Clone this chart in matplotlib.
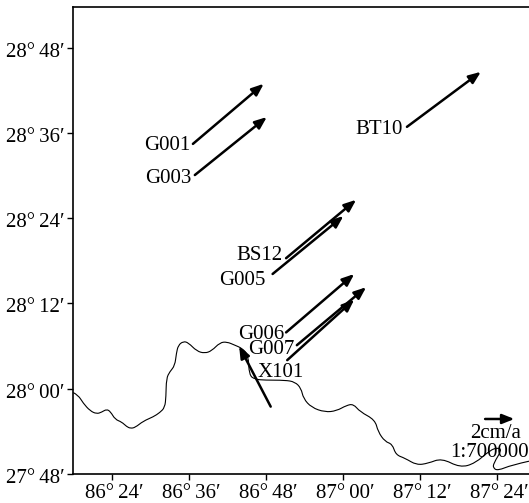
import matplotlib
matplotlib.use('Agg')
import matplotlib.pyplot as plt
from matplotlib.path import Path
from matplotlib.patches import PathPatch
from matplotlib.transforms import ScaledTranslation

# degrees, read from the graticule
lon_ticks = [86.4, 86.6, 86.8, 87.0, 87.2, 87.4]
lon_labels = ['86°\u200924′', '86°\u200936′', '86°\u200948′', '87°\u200900′', '87°\u200912′', '87°\u200924′']
lat_ticks = [27.8, 28.0, 28.2, 28.4, 28.6, 28.8]
lat_labels = ['27°\u200948′', '28°\u200900′', '28°\u200912′', '28°\u200924′', '28°\u200936′', '28°\u200948′']

border_lon = [86.300, 86.313, 86.326, 86.344, 86.361, 86.374, 86.387, 86.397, 86.409, 86.426,
              86.439, 86.449, 86.461, 86.482, 86.508, 86.525, 86.538, 86.541, 86.542, 86.551,
              86.564, 86.568, 86.573, 86.586, 86.599, 86.621, 86.642, 86.660, 86.681, 86.699,
              86.720, 86.738, 86.755, 86.757, 86.772, 86.798, 86.850, 86.876, 86.892, 86.898,
              86.919, 86.954, 86.984, 87.010, 87.028, 87.045, 87.084, 87.092, 87.110, 87.129,
              87.138, 87.162, 87.192, 87.222, 87.257, 87.305, 87.344, 87.383, 87.404, 87.413,
              87.392, 87.391, 87.403, 87.439, 87.484]
border_lat = [27.991, 27.985, 27.966, 27.948, 27.941, 27.945, 27.952, 27.946, 27.928, 27.922,
              27.911, 27.907, 27.909, 27.924, 27.934, 27.944, 27.956, 27.981, 28.024, 28.040,
              28.054, 28.083, 28.102, 28.111, 28.108, 28.088, 28.083, 28.089, 28.108, 28.110,
              28.102, 28.095, 28.079, 28.032, 28.022, 28.020, 28.020, 28.016, 28.001, 27.977,
              27.956, 27.945, 27.948, 27.961, 27.964, 27.946, 27.927, 27.899, 27.876, 27.870,
              27.845, 27.837, 27.821, 27.825, 27.837, 27.815, 27.825, 27.856, 27.862, 27.856,
              27.825, 27.814, 27.808, 27.821, 27.830]

stations = ['G001', 'G003', 'BT10', 'BS12', 'G005', 'G006', 'G007', 'X101', '']
tail_lon = [86.611, 86.616, 87.167, 86.853, 86.818, 86.853, 86.881, 86.856, 86.813]
tail_lat = [28.574, 28.501, 28.614, 28.306, 28.269, 28.132, 28.102, 28.067, 27.958]
tip_lon = [86.795, 86.803, 87.359, 87.035, 87.002, 87.030, 87.061, 87.030, 86.731]
tip_lat = [28.715, 28.637, 28.743, 28.443, 28.405, 28.269, 28.238, 28.209, 28.100]

scale_lon = [87.370, 87.446]
scale_lat = 27.929

# where each name sits relative to its arrow tail, in pixels
label_dx = [-3, -3, -4, -4, -7, -2, -2, 17, 0]
label_dy = [-2, -3, -3, 3, -7, -2, -4, -12, 0]

plt.rcParams['font.family'] = ['Liberation Serif', 'DejaVu Serif']
plt.rcParams['font.size'] = 15

fig = plt.figure(figsize=(5.29, 5.03), dpi=100)
ax = fig.add_axes([73 / 529, 29 / 503, 456 / 529, 467 / 503])
ax.set_xlim(86.2995, 87.484)
ax.set_ylim(27.8, 28.895)

# border: read points as control points of a smooth curve
pts = list(zip(border_lon, border_lat))
verts = [pts[0]]
codes = [Path.MOVETO]
for i in range(1, len(pts) - 1):
    nxt = pts[i + 1] if i == len(pts) - 2 else ((pts[i][0] + pts[i + 1][0]) / 2, (pts[i][1] + pts[i + 1][1]) / 2)
    verts += [pts[i], nxt]
    codes += [Path.CURVE3, Path.CURVE3]
ax.add_patch(PathPatch(Path(verts, codes), fill=False, edgecolor='black', lw=0.8))

arrow = dict(arrowstyle='-|>,head_length=0.55,head_width=0.22', color='black', lw=1.8,
             shrinkA=0, shrinkB=0, mutation_scale=13)
for i in range(len(stations)):
    ax.annotate('', xy=(tip_lon[i], tip_lat[i]), xytext=(tail_lon[i], tail_lat[i]), arrowprops=arrow)
    if stations[i]:
        ax.annotate(stations[i], xy=(tail_lon[i], tail_lat[i]), xytext=(label_dx[i], label_dy[i]),
                    textcoords='offset pixels', ha='right', va='center')

ax.annotate('', xy=(scale_lon[1], scale_lat), xytext=(scale_lon[0], scale_lat), arrowprops=arrow)
ax.text(87.397, 27.895, '2cm/a', ha='center', va='center')
ax.text(87.382, 27.851, '1:700000', ha='center', va='center')

ax.set_xticks(lon_ticks, lon_labels)
ax.set_yticks(lat_ticks, lat_labels)
ax.tick_params(axis='both', length=4, width=1, pad=2)
ax.tick_params(axis='x', pad=3)
shift = ScaledTranslation(2 / 72, 0, fig.dpi_scale_trans)
for t in ax.get_xticklabels():
    t.set_transform(t.get_transform() + shift)
down = ScaledTranslation(0, -1.5 / 72, fig.dpi_scale_trans)
for t in ax.get_yticklabels():
    t.set_transform(t.get_transform() + down)
for s in ['left', 'bottom', 'top']:
    ax.spines[s].set_linewidth(1.2)
ax.spines['right'].set_visible(False)

plt.savefig('out.png', dpi=100)
